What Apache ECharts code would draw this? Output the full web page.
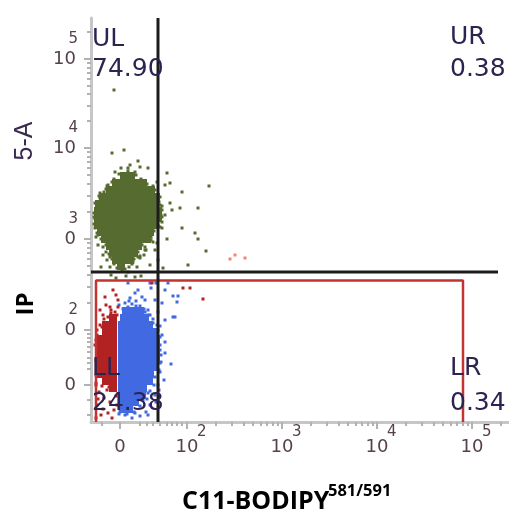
<!DOCTYPE html>
<html><head><meta charset="utf-8">
<script src="https://cdn.jsdelivr.net/npm/echarts@6/dist/echarts.min.js"></script>
<style>html,body{margin:0;padding:0;background:#fff}#c{width:509px;height:512px}</style>
</head><body><div id="c"></div>
<script>
// ---- axis ticks (biexponential display units) ----
const xMajorTicks = [0, 67, 162, 257, 352];
const xMajorLabels = ['0', '10', '10', '10', '10'];
const xSuperLabels = ['', '2', '3', '4', '5'];
const xMinorTicks = [-18, 20, 27, 33, 40, 47, 52, 57, 62, 96, 112, 124, 133, 141, 147, 153, 158,
  191, 207, 219, 228, 236, 242, 248, 253, 286, 302, 314, 323, 331, 337, 343, 348, 381];
const yMajorTicks = [0, 55, 146, 237, 326];
const yMajorLabels = ['0', '0', '0', '10', '10'];
const ySuperLabels = ['', '2', '3', '4', '5'];
const yMinorTicks = [-30, -15, 16, 22, 27, 33, 38, 43, 47, 51, 82, 98, 110, 119, 126, 132, 137, 142,
  173, 189, 201, 210, 217, 223, 228, 233, 264, 279, 291, 299, 306, 312, 317, 322, 353];

// ---- quadrant statistics and titles ----
const quadNames = ['UL', 'UR', 'LL', 'LR'];
const quadValues = ['74.90', '0.38', '24.38', '0.34'];
const xTitle = 'C11-BODIPY';
const xTitleSup = '581/591';
const yTitle = 'IP';
const yTitleTop = '5-A';

// ---- gates ----
const gateVertical = [[38, -37], [38, 367]];
const gateHorizontal = [[-29, 113], [378, 113]];
const gateRect = [[-24, -37], [-24, 104.5], [343, 104.5], [343, -37]];

// ---- events (dense cores and sparse dots) ----
const greenCore = [
  [4,209],[11,209],
  [-4,202],[3,202],[10,202],[17,202],[23,202],
  [-10,195],[-3,195],[4,195],[11,195],[18,195],[25,195],[31,195],
  [-17,188],[-10,188],[-3,188],[4,188],[11,188],[18,188],[25,188],[32,188],[36,188],
  [-21,181],[-14,181],[-7,181],[0,181],[7,181],[14,181],[21,181],[28,181],[35,181],
  [-22,174],[-15,174],[-8,174],[-1,174],[6,174],[13,174],[20,174],[27,174],[34,174],[38,174],
  [-22,167],[-15,167],[-8,167],[-1,167],[6,167],[13,167],[20,167],[27,167],[34,167],[38,167],
  [-22,160],[-15,160],[-8,160],[-1,160],[6,160],[13,160],[20,160],[27,160],[34,160],
  [-19,153],[-12,153],[-5,153],[2,153],[9,153],[16,153],[23,153],[30,153],
  [-15,146],[-8,146],[-1,146],[6,146],[13,146],[20,146],[27,146],
  [-10,139],[-3,139],[4,139],[11,139],[18,139],
  [-7,132],[0,132],[7,132],[14,132],
  [-4,125],[3,125],[10,125],
  [1,119]
];
const greenDots = [
  [-6,295],[-8,232],[4,235],[1,217],[10,220],[18,224],[20,218],[28,217],[47,212],[37,203],
  [45,200],[50,202],[62,193],[89,199],[50,182],[60,177],[78,177],[52,175],[45,170],[62,157],
  [75,152],[78,146],[47,146],[86,134],[68,120],[-19,118],[-10,118],[-9,110],[21,109],[30,120],
  [26,135],[18,128],[-17,130],[-25,157],[-24,148],[-17,138],[31,148],[35,135],[38,125],[43,117],
  [-12,200],[-16,193],[-20,187],[30,197],[35,190],[40,180],[42,163],[37,142],[25,135],[2,115],
  [8,113],[-2,123],[13,123],[-13,125],[-5,213],[15,213],[8,217],[-22,140],[20,127],[6,109],
  [15,108],[-4,107],[41,170],[42,157],[-24,176],[-25,166],[33,143],[24,130],[-14,133],[17,118],
  [-1,211],[16,210],[8,214],[-8,203],[27,201],[-6,206],[21,206],[-14,196],[35,195],[-13,199],
  [33,199],[-21,189],[40,188],[-20,192],[-25,182],[39,183],[42,179],[-26,172],[-26,168],[42,175],
  [42,168],[-26,161],[38,160],[40,158],[-23,152],[34,154],[-22,150],[-19,146],[31,145],[30,149],
  [-14,140],[22,140],[25,138],[-13,143],[21,143],[-11,131],[18,133],[-10,128],[20,129],[-8,126],
  [14,126],[-6,121],[12,121],[-3,117],[5,116],[9,118]
];
const blueCore = [
  [6,74],[13,74],[20,74],
  [4,67],[11,67],[18,67],[25,67],
  [2,60],[9,60],[16,60],[23,60],[29,60],
  [2,53],[9,53],[16,53],[23,53],[30,53],[35,53],
  [2,46],[9,46],[16,46],[23,46],[30,46],[36,46],
  [2,39],[9,39],[16,39],[23,39],[30,39],[36,39],
  [2,32],[9,32],[16,32],[23,32],[30,32],[36,32],
  [2,25],[9,25],[16,25],[23,25],[30,25],[36,25],
  [2,18],[9,18],[16,18],[23,18],[30,18],[35,18],
  [2,11],[9,11],[16,11],[23,11],[30,11],
  [2,4],[9,4],[16,4],[23,4],[29,4],
  [2,-3],[9,-3],[16,-3],[23,-3],
  [2,-10],[9,-10],[16,-10],[22,-10],
  [2,-17],[9,-17],[15,-17],
  [3,-24],[9,-24]
];
const blueDots = [
  [8,102],[30,102],[36,102],[48,102],[31,97],[45,95],[53,89],[58,89],[57,83],[42,82],
  [53,68],[55,68],[45,65],[45,43],[45,32],[51,21],[44,5],[18,95],[15,92],[25,85],
  [10,87],[5,82],[20,79],[28,75],[35,85],[38,73],[12,81],[40,59],[42,50],[41,23],
  [40,13],[38,0],[35,-10],[23,-15],[30,-20],[5,-30],[15,-28],[26,-27],[-1,-29],[33,66],
  [37,60],[30,70],[22,88],[40,40],[41,30],[39,-5],[36,-17],[20,-31],[12,-33],[28,-30],
  [-1,80],[8,78],[16,79],[24,76],[28,70],[33,62],[38,55],[40,48],[40,35],[40,22],
  [39,15],[35,8],[34,0],[30,-6],[28,-8],[27,-14],[20,-21],[14,-27],[7,-29],[0,-27],
  [25,73],[16,84],[9,84],[3,76]
];
const redCore = [
  [-7,67],
  [-14,60],[-7,60],
  [-14,53],[-7,53],
  [-21,46],[-14,46],[-7,46],
  [-21,39],[-14,39],[-7,39],
  [-21,32],[-14,32],[-7,32],
  [-21,25],[-14,25],[-7,25],
  [-21,18],[-14,18],[-7,18],
  [-21,11],[-14,11],[-7,11],
  [-14,4],[-7,4],
  [-7,-3]
];
const redDots = [
  [63,97],[70,97],[83,86],[32,102],[-7,95],[-4,90],[-14,80],[-10,78],[-17,70],[-12,68],
  [-5,73],[-2,85],[-9,75],[-20,60],[-23,50],[-25,40],[-21,-7],[-16,-13],[-23,-20],[-10,-17],
  [-6,-25],[-19,-30],[-13,-5],[-4,-11],[-2,78],[-15,88],[-20,75],[-24,25],[-24,10],[-22,-14],
  [-17,-24],[-12,-28],[-3,-20],[-8,-33],[-24,-33],[-24,2],[-18,-1],[-11,-2],[-9,72],[-16,66],
  [-18,58],[-23,55],[-24,45],[-3,70],[-24,0]
];
const salmonDots = [[110,126],[115,130],[125,127]];

const labelColor = '#55404e';
const axisGray = '#c6c6c6';
const tickGray = '#b2b2b2';
const gridRect = {left: 91, right: 0, top: 18, bottom: 90, outerBoundsMode: 'none'};

function baseAxis(extra, isX) {
  return Object.assign({
    type: 'value',
    min: isX ? -29 : -37,
    max: isX ? 389 : 367,
    splitLine: {show: false},
    axisLine: {show: false, onZero: false},
    axisTick: {show: false},
    axisLabel: {show: false}
  }, extra);
}
const labelFont = {fontFamily: 'DejaVu Sans', color: labelColor};

function dots(data, size, color) {
  return {type: 'scatter', data: data, symbol: 'rect', symbolSize: size,
    itemStyle: {color: color, opacity: 1}, silent: true, z: 2};
}

const option = {
  animation: false,
  backgroundColor: '#fff',
  grid: [gridRect, gridRect, gridRect],
  xAxis: [
    baseAxis({gridIndex: 0, position: 'bottom',
      axisLine: {show: true, onZero: false, lineStyle: {color: axisGray, width: 3}},
      axisTick: {show: true, customValues: xMajorTicks, length: 7, lineStyle: {color: tickGray, width: 2}},
      axisLabel: Object.assign({show: true, customValues: xMajorTicks, margin: 16, fontSize: 18,
        formatter: v => xMajorLabels[xMajorTicks.indexOf(v)]}, labelFont)}, true),
    baseAxis({gridIndex: 1, position: 'bottom',
      axisTick: {show: true, customValues: xMinorTicks, length: 4, lineStyle: {color: tickGray, width: 2}}}, true),
    baseAxis({gridIndex: 2, position: 'bottom',
      axisLabel: Object.assign({show: true, customValues: xMajorTicks, margin: 3, fontSize: 15, align: 'left',
        padding: [0, 0, 0, 10], formatter: v => xSuperLabels[xMajorTicks.indexOf(v)]}, labelFont)}, true)
  ],
  yAxis: [
    baseAxis({gridIndex: 0, position: 'left',
      axisLine: {show: true, onZero: false, lineStyle: {color: axisGray, width: 3}},
      axisTick: {show: true, customValues: yMajorTicks, length: 7, lineStyle: {color: tickGray, width: 2}},
      axisLabel: Object.assign({show: true, customValues: yMajorTicks, margin: 15, fontSize: 18,
        padding: [4, 0, 0, 0], formatter: v => yMajorLabels[yMajorTicks.indexOf(v)]}, labelFont)}, false),
    baseAxis({gridIndex: 1, position: 'left',
      axisTick: {show: true, customValues: yMinorTicks, length: 4, lineStyle: {color: tickGray, width: 2}}}, false),
    baseAxis({gridIndex: 2, position: 'left',
      axisLabel: Object.assign({show: true, customValues: yMajorTicks, margin: 13, fontSize: 15,
        verticalAlign: 'bottom', padding: [0, 0, 12, 0],
        formatter: v => ySuperLabels[yMajorTicks.indexOf(v)]}, labelFont)}, false)
  ],
  series: [
    dots(greenCore, 8, '#566b2f'),
    dots(greenDots, 3, '#566b2f'),
    dots(blueCore, 8, '#4169e1'),
    dots(blueDots, 3, '#4169e1'),
    dots(redCore, 8, '#b22222'),
    dots(redDots, 3, '#b22222'),
    dots(salmonDots, 3, '#fa8072'),
    {type: 'line', data: gateRect, symbol: 'none', silent: true, z: 4, lineStyle: {color: '#c43232', width: 2.5}},
    {type: 'line', data: gateVertical, symbol: 'none', silent: true, z: 5, lineStyle: {color: '#1c1c1c', width: 3}},
    {type: 'line', data: gateHorizontal, symbol: 'none', silent: true, z: 5, lineStyle: {color: '#1c1c1c', width: 3}}
  ],
  graphic: [
    {type: 'text', x: 92, y: 39, z: 10, style: {text: quadNames[0], font: '25px "DejaVu Sans"', fill: '#2d2350', verticalAlign: 'middle'}},
    {type: 'text', x: 92, y: 69, z: 10, style: {text: quadValues[0], font: '25px "DejaVu Sans"', fill: '#2d2350', verticalAlign: 'middle'}},
    {type: 'text', x: 450, y: 37, z: 10, style: {text: quadNames[1], font: '25px "DejaVu Sans"', fill: '#2d2350', verticalAlign: 'middle'}},
    {type: 'text', x: 450, y: 69, z: 10, style: {text: quadValues[1], font: '25px "DejaVu Sans"', fill: '#2d2350', verticalAlign: 'middle'}},
    {type: 'text', x: 92, y: 368, z: 10, style: {text: quadNames[2], font: '25px "DejaVu Sans"', fill: '#2d2350', verticalAlign: 'middle'}},
    {type: 'text', x: 92, y: 403, z: 10, style: {text: quadValues[2], font: '25px "DejaVu Sans"', fill: '#2d2350', verticalAlign: 'middle'}},
    {type: 'text', x: 450, y: 368, z: 10, style: {text: quadNames[3], font: '25px "DejaVu Sans"', fill: '#2d2350', verticalAlign: 'middle'}},
    {type: 'text', x: 450, y: 403, z: 10, style: {text: quadValues[3], font: '25px "DejaVu Sans"', fill: '#2d2350', verticalAlign: 'middle'}},
    {type: 'text', x: 182, y: 502, z: 10, style: {text: xTitle, font: 'bold 25px "Open Sans"', fill: '#000', verticalAlign: 'middle'}},
    {type: 'text', x: 328, y: 491, z: 10, style: {text: xTitleSup, font: 'bold 16.5px "Open Sans"', fill: '#000', verticalAlign: 'middle'}},
    {type: 'text', x: 26, y: 304, rotation: Math.PI / 2, z: 10, style: {text: yTitle, font: 'bold 24px "Open Sans"', fill: '#000', align: 'center', verticalAlign: 'middle'}},
    {type: 'text', x: 25, y: 141, rotation: Math.PI / 2, z: 10, style: {text: yTitleTop, font: '25px "Liberation Sans"', fill: '#3a2a50', align: 'center', verticalAlign: 'middle'}}
  ]
};
const chart = echarts.init(document.getElementById('c'), null, {renderer: 'canvas'});
chart.setOption(option);
</script></body></html>
